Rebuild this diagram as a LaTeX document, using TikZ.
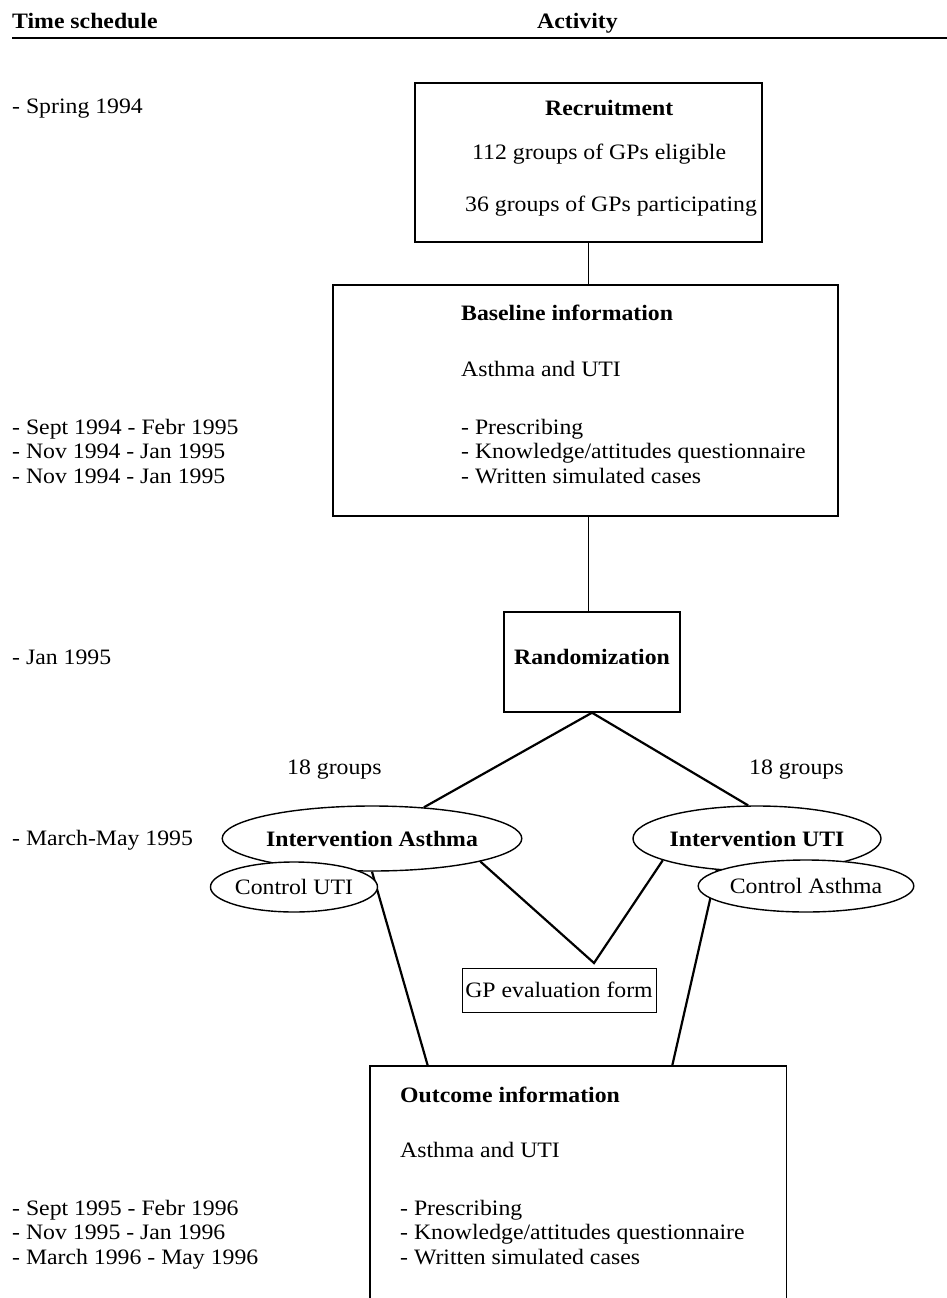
\documentclass[tikz,border=0pt]{standalone}
\usepackage{fontspec}
\setmainfont{Liberation Serif}[FakeStretch=1.08]
\usetikzlibrary{shapes.geometric,calc}
\newcommand{\fsz}{\fontsize{22}{24.5}\selectfont}
\tikzset{
  txt/.style={anchor=base west, inner sep=0pt, font=\fsz},
  btxt/.style={anchor=base west, inner sep=0pt, font=\fsz\bfseries},
  ctxt/.style={anchor=base, inner sep=0pt, font=\fsz\bfseries},
  box/.style={draw, rectangle, line width=1.4pt, inner sep=0pt},
  oval/.style={draw, ellipse, line width=1.4pt, inner sep=0pt, fill=white},
  conn/.style={line width=1.3pt},
  vline/.style={line width=2.2pt},
}
\begin{document}
\begin{tikzpicture}[x=1pt,y=-1pt]
\useasboundingbox (0,0) rectangle (947,1298);
% header
\node[btxt] (h1) at (12,29) {Time schedule};
\node[btxt] (h2) at (537,29) {Activity};
\draw[line width=1.5pt] (12,38) -- (947,38);
% time column
\node[txt] (t1) at (12,113) {- Spring 1994};
\node[txt] (t2) at (12,434) {- Sept 1994 - Febr 1995};
\node[txt] (t3) at (12,458) {- Nov 1994 - Jan 1995};
\node[txt] (t4) at (12,483) {- Nov 1994 - Jan 1995};
\node[txt] (t5) at (12,664) {- Jan 1995};
\node[txt] (t6) at (12,845) {- March-May 1995};
\node[txt] (t7) at (12,1215) {- Sept 1995 - Febr 1996};
\node[txt] (t8) at (12,1239) {- Nov 1995 - Jan 1996};
\node[txt] (t9) at (12,1264) {- March 1996 - May 1996};
% recruitment
\node[box, minimum width=347pt, minimum height=159pt] (rec) at (588.5,162.5) {};
\node[btxt] (r1) at (545,115) {Recruitment};
\node[txt] (r2) at (472,159) {112 groups of GPs eligible};
\node[txt] (r3) at (465,211) {36 groups of GPs participating};
% baseline
\node[box, minimum width=505pt, minimum height=231pt] (base) at (585.5,400.5) {};
\node[btxt] (b1) at (461,320) {Baseline information};
\node[txt] (b2) at (461,376) {Asthma and UTI};
\node[txt] (b3) at (461,434) {- Prescribing};
\node[txt] (b4) at (461,458) {- Knowledge/attitudes questionnaire};
\node[txt] (b5) at (461,483) {- Written simulated cases};
% randomization
\node[box, minimum width=176pt, minimum height=100pt] (rand) at (592,662) {};
\node[ctxt] (rt) at (592,664) {Randomization};
\node[txt] (g1) at (287,774) {18 groups};
\node[txt] (g2) at (749,774) {18 groups};
% intervention ellipses
\node[oval, minimum width=258pt, minimum height=65pt, font=\fsz\bfseries] (ia) at (372,838.5) {Intervention Asthma};
\node[oval, minimum width=248pt, minimum height=65pt, font=\fsz\bfseries] (iu) at (757,838.5) {Intervention UTI};
% GP evaluation
\node[box, line width=1pt, minimum width=194pt, minimum height=44pt, font=\fsz] (gp) at (559,990) {GP evaluation form};
\coordinate (vtip) at (594,963);
% outcome box (open at bottom)
\node[minimum width=416pt, minimum height=232pt, inner sep=0pt] (out) at (578,1182) {};
\draw[box] (out.south west) -- (out.north west) -- (out.north east) -- (out.south east);
\node[btxt] (o1) at (400,1102) {Outcome information};
\node[txt] (o2) at (400,1157) {Asthma and UTI};
\node[txt] (o3) at (400,1215) {- Prescribing};
\node[txt] (o4) at (400,1239) {- Knowledge/attitudes questionnaire};
\node[txt] (o5) at (400,1264) {- Written simulated cases};
% connectors
\draw[conn] (rec.south) -- (rec.south |- base.north);
\draw[conn] (rec.south |- base.south) -- (rec.south |- rand.north);
\draw[vline] (ia.31.5) -- (rand.south) -- (iu.105);
\draw[vline] (ia.-12) -- (vtip) -- (iu.193);
\draw[vline] (ia.south) -- ($(out.north west)+(58,0)$);
\draw[vline] (iu.-142) -- ($(out.north east)+(-114,0)$);
% control ellipses on top
\node[oval, minimum width=154pt, minimum height=50pt, font=\fsz] (cu) at (294,887) {Control UTI};
\node[oval, minimum width=199pt, minimum height=52pt, font=\fsz] (ca) at (806,886) {Control Asthma};
\end{tikzpicture}
\end{document}
